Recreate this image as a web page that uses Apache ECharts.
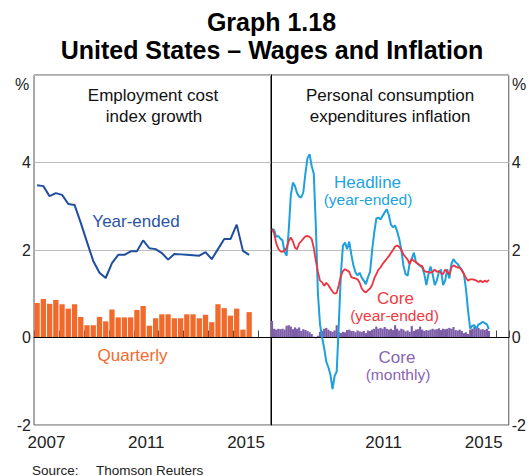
<!DOCTYPE html>
<html>
<head>
<meta charset="utf-8">
<script src="https://cdn.jsdelivr.net/npm/echarts@6/dist/echarts.min.js"></script>
<style>
html,body{margin:0;padding:0;background:#fff;}
#c{width:529px;height:476px;}
</style>
</head>
<body>
<div id="c"></div>
<script>
// ---------- DATA ----------
const startYear = 2007;
const xLabelYears = [2007, 2011, 2015];
const yTicks = [-2, 0, 2, 4, 6];

// Employment cost index, quarterly growth (2007Q1 - 2015Q3)
const eciQuarterly = [0.79,0.88,0.77,0.86,0.76,0.66,0.76,0.47,0.28,0.28,
  0.47,0.37,0.64,0.46,0.46,0.46,0.63,0.72,0.27,0.44,
  0.53,0.53,0.44,0.44,0.53,0.53,0.44,0.52,0.35,0.76,
  0.67,0.50,0.66,0.18,0.58];
// Employment cost index, year-ended growth
const eciYearEnded = [3.48,3.46,3.23,3.30,3.26,3.05,3.03,2.62,2.18,1.75,
  1.48,1.36,1.70,1.89,1.89,1.97,1.97,2.22,2.04,2.02,
  1.93,1.78,1.91,1.90,1.89,1.88,1.87,1.95,1.79,2.02,
  2.25,2.25,2.58,1.98,1.89];

// PCE headline, year-ended (monthly, Jan 2007 - Sep 2015)
const pceHeadline = [2.48,2.46,2.30,2.32,2.26,2.22,1.96,1.87,2.45,3.25,
  3.54,3.46,3.30,3.22,3.20,3.32,3.75,4.10,4.19,3.92,
  3.75,2.55,1.00,0.30,0.00,-0.25,-0.55,-0.68,-0.85,-1.18,
  -0.88,-0.78,0.30,1.45,2.10,2.17,2.02,2.19,1.90,1.65,
  1.49,1.42,1.48,1.37,1.30,1.22,1.38,1.50,2.00,2.40,
  2.72,2.74,2.70,2.78,2.86,2.93,2.80,2.58,2.52,2.56,
  2.42,2.25,2.00,1.64,1.45,1.41,1.70,1.80,1.94,1.72,
  1.68,1.64,1.60,1.45,1.20,1.45,1.62,1.45,1.20,1.30,
  1.50,1.55,1.20,1.30,1.56,1.35,1.68,1.79,1.72,1.68,
  1.60,1.55,1.45,1.10,0.60,0.20,0.27,0.28,0.20,0.30,
  0.32,0.36,0.33,0.30,0.19];
// PCE core, year-ended
const pceCoreYearEnded = [2.48,2.38,2.15,2.03,1.97,1.96,1.98,2.05,2.20,2.29,
  2.20,2.05,2.02,2.15,2.20,2.26,2.31,2.32,2.30,2.25,
  2.05,1.75,1.50,1.30,1.26,1.18,1.25,1.20,1.12,1.05,
  1.00,1.02,1.20,1.40,1.52,1.56,1.53,1.50,1.38,1.36,
  1.35,1.33,1.25,1.12,1.06,1.03,1.08,1.12,1.20,1.35,
  1.45,1.55,1.60,1.68,1.74,1.80,1.86,1.93,2.00,2.08,
  2.10,2.07,2.00,1.90,1.84,1.78,1.68,1.80,1.75,1.72,
  1.68,1.65,1.63,1.52,1.50,1.50,1.48,1.50,1.55,1.50,
  1.52,1.47,1.45,1.55,1.50,1.44,1.60,1.65,1.62,1.60,
  1.60,1.53,1.45,1.36,1.30,1.33,1.33,1.32,1.30,1.27,
  1.30,1.26,1.30,1.27,1.32];
// PCE core, monthly
const pceCoreMonthly = [0.38,0.20,0.18,0.20,0.19,0.20,0.18,0.27,0.28,0.25,
  0.19,0.23,0.20,0.23,0.15,0.19,0.17,0.15,0.12,0.08,
  0.02,-0.02,0.04,0.13,0.15,0.20,0.22,0.18,0.15,0.13,
  0.16,0.28,0.12,0.10,0.13,0.12,0.17,0.18,0.15,0.15,
  0.12,0.16,0.14,0.13,0.15,0.10,0.16,0.15,0.18,0.20,
  0.25,0.20,0.22,0.20,0.24,0.20,0.18,0.20,0.17,0.28,
  0.20,0.16,0.20,0.18,0.14,0.16,0.13,0.26,0.15,0.18,
  0.19,0.25,0.18,0.15,0.17,0.16,0.18,0.20,0.18,0.19,
  0.21,0.17,0.20,0.19,0.20,0.22,0.20,0.24,0.17,0.16,
  0.18,0.15,0.10,0.12,0.08,0.18,0.20,0.25,0.20,0.22,
  0.18,0.19,0.17,0.20,0.15];

// ---------- BUILD ----------
const qx = i => startYear + (i + 0.5) / 4;
const mx = i => startYear + (i + 0.5) / 12;
const toQ = arr => arr.map((v, i) => [qx(i), v]);
const toM = arr => arr.map((v, i) => [mx(i), v]);

const FONT = '"Liberation Sans", Arial, Helvetica, sans-serif';
const XMIN = 2007, XMAX = 2016.5;
const labelSet = xLabelYears.map(y => y + 0.5);

function tickAxis(g) {
  return {
    type: 'value', gridIndex: g, position: 'bottom', min: XMIN, max: XMAX, interval: 1,
    axisLine: {show: true, lineStyle: {color: '#555', width: 1}},
    axisTick: {show: true, inside: true, length: 7, lineStyle: {color: '#444', width: 1}},
    axisLabel: {show: false}, splitLine: {show: false}
  };
}
function labelAxis(g, years) {
  return {
    type: 'value', gridIndex: g, position: 'bottom', min: XMIN, max: XMAX, interval: 0.5,
    axisLine: {show: false}, axisTick: {show: false}, splitLine: {show: false},
    axisLabel: {
      show: true, margin: 9, color: '#222', fontSize: 17, fontFamily: FONT,
      showMinLabel: true, showMaxLabel: true,
      formatter: v => (years.some(y => Math.abs(y - v) < 1e-6) ? String(Math.floor(v)) : '')
    }
  };
}
function valAxis(g, pos) {
  return {
    type: 'value', gridIndex: g, position: pos, min: yTicks[0], max: yTicks[yTicks.length - 1], interval: 2,
    axisLine: {show: false}, axisTick: {show: false},
    axisLabel: {show: true, margin: 3, color: '#222', fontSize: 16, fontFamily: FONT,
      formatter: v => (v === 6 ? '' : String(v))},
    splitLine: {show: true, lineStyle: {color: '#bdbdbd', width: 1}}
  };
}
const zeroLine = {
  silent: true, symbol: ['none', 'none'], label: {show: false},
  lineStyle: {color: '#000', width: 1, type: 'solid'},
  data: [{yAxis: 0}]
};

const rightLabelYears = [2011.5, 2015.5];

function T(x, y, text, size, color, weight) {
  return {type: 'text', x: x, y: y, silent: true, z: 100,
    style: {text: text, fill: color, fontSize: size, fontFamily: FONT, fontWeight: weight || 'normal',
      align: 'center', verticalAlign: 'middle'}};
}

const chart = echarts.init(document.getElementById('c'), null, {renderer: 'svg', width: 529, height: 476});
chart.setOption({
  animation: false,
  backgroundColor: '#fff',
  textStyle: {fontFamily: FONT},
  grid: [
    {left: 34, top: 75, width: 237, height: 350, show: true, borderColor: '#555', borderWidth: 1, backgroundColor: 'transparent'},
    {left: 271, top: 75, width: 238, height: 350, show: true, borderColor: '#555', borderWidth: 1, backgroundColor: 'transparent'}
  ],
  xAxis: [tickAxis(0), labelAxis(0, labelSet), tickAxis(1), labelAxis(1, rightLabelYears)],
  yAxis: [
    valAxis(0, 'left'),
    valAxis(1, 'right'),
    {type: 'value', gridIndex: 1, position: 'left', min: -2, max: 6, interval: 2,
     axisLine: {show: true, lineStyle: {color: '#000', width: 1}}, axisTick: {show: false},
     axisLabel: {show: false}, splitLine: {show: false}}
  ],
  series: [
    {type: 'bar', name: 'Quarterly', xAxisIndex: 0, yAxisIndex: 0, data: toQ(eciQuarterly),
     barWidth: 5.3, itemStyle: {color: '#f26a2b'}, markLine: zeroLine},
    {type: 'line', name: 'Year-ended', xAxisIndex: 0, yAxisIndex: 0, data: toQ(eciYearEnded),
     symbol: 'none', lineStyle: {color: '#1f4e9e', width: 2}, z: 5},
    {type: 'bar', name: 'Core (monthly)', xAxisIndex: 2, yAxisIndex: 1, data: toM(pceCoreMonthly),
     barWidth: 2.2, itemStyle: {color: '#7d5ea9'}, markLine: zeroLine},
    {type: 'line', name: 'Headline', xAxisIndex: 2, yAxisIndex: 1, data: toM(pceHeadline),
     symbol: 'none', lineStyle: {color: '#1ea0dc', width: 2}, z: 5},
    {type: 'line', name: 'Core (year-ended)', xAxisIndex: 2, yAxisIndex: 1, data: toM(pceCoreYearEnded),
     symbol: 'none', lineStyle: {color: '#ec3440', width: 1.8}, z: 6}
  ],
  graphic: [
    T(271.5, 22, 'Graph 1.18', 25, '#000', 'bold'),
    T(272, 50, 'United States \u2013 Wages and Inflation', 25, '#000', 'bold'),
    T(22, 84, '%', 16, '#222'),
    T(519, 84, '%', 16, '#222'),
    T(153, 95, 'Employment cost', 17, '#111'),
    T(154, 116, 'index growth', 17, '#111'),
    T(390, 95, 'Personal consumption', 17, '#111'),
    T(390, 116, 'expenditures inflation', 17, '#111'),
    T(136, 221, 'Year-ended', 17, '#2a55a3'),
    T(132.5, 355, 'Quarterly', 17, '#f26b2b'),
    T(367.5, 182, 'Headline', 17, '#22a3de'),
    T(368, 199, '(year-ended)', 15.5, '#22a3de'),
    T(395.5, 298, 'Core', 17, '#ee3a45'),
    T(394.5, 315, '(year-ended)', 15.5, '#ee3a45'),
    T(397, 357, 'Core', 17, '#8a63b3'),
    T(398, 374, '(monthly)', 15.5, '#8a63b3'),
    {type: 'text', x: 32, y: 470, silent: true,
     style: {text: 'Source:', fill: '#222', fontSize: 13.5, fontFamily: FONT, align: 'left', verticalAlign: 'middle'}},
    {type: 'text', x: 96, y: 470, silent: true,
     style: {text: 'Thomson Reuters', fill: '#222', fontSize: 13.5, fontFamily: FONT, align: 'left', verticalAlign: 'middle'}}
  ]
});
</script>
</body>
</html>
